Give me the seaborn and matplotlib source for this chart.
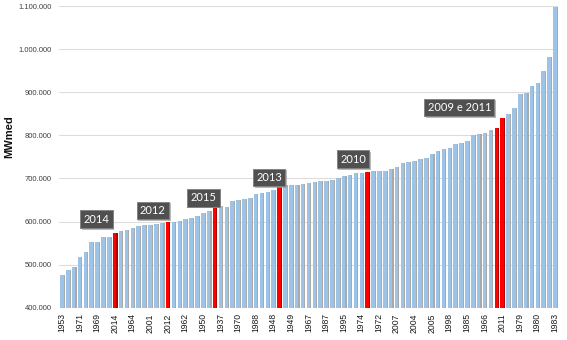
import matplotlib
matplotlib.use("Agg")
import numpy as np
import pandas as pd
import matplotlib.pyplot as plt
import matplotlib.patheffects as pe
from matplotlib.patches import Rectangle
import seaborn as sns

# Annual mean natural inflow energy (MWmed), years sorted from lowest to highest
mwmed = [
    475, 488, 495, 518, 529, 552, 553, 564, 565, 573,
    578, 580, 586, 589, 592, 592, 595, 597, 598, 599,
    601, 606, 608, 612, 620, 624, 635, 635, 633, 647,
    651, 652, 654, 664, 666, 669, 673, 682, 684, 685,
    685, 688, 690, 691, 694, 694, 696, 702, 706, 709,
    713, 713, 715, 717, 718, 718, 721, 727, 735, 739,
    741, 746, 747, 757, 764, 769, 771, 779, 783, 786,
    801, 803, 805, 812, 818, 841, 850, 864, 895, 899,
    914, 922, 949, 982, 1097,
]
mwmed = [v * 1000 for v in mwmed]

# Year shown under every third bar
tick_years = [
    "1953", "1971", "1969", "2014", "1964", "2001", "2012", "1962", "1950",
    "1937", "1970", "1988", "1948", "1949", "1967", "1987", "1995", "1974",
    "1972", "2007", "2004", "2005", "1998", "1985", "1966", "2011", "1979",
    "1980", "1983",
]

# Recent years highlighted in red (bar position in the sorted ranking)
highlight_pos = [9, 18, 26, 37, 52, 74, 75]

# Callout boxes: text and the bar they point at
callout_text = ["2014", "2012", "2015", "2013", "2010", "2009 e 2011"]
callout_bar = [9, 18, 26, 37, 52, 75]

BLUE = "#9DC3E6"
RED = "#FF0000"
SHADOW = "#A9A9A9"
RED_SHADOW = "#B00000"

sns.set_style("white")
plt.rcParams["font.family"] = ["Liberation Sans", "DejaVu Sans"]

n = len(mwmed)
df = pd.DataFrame({
    "pos": np.arange(n),
    "mwmed": mwmed,
    "grupo": ["destaque" if i in highlight_pos else "normal" for i in range(n)],
})

fig = plt.figure(figsize=(5.67, 3.40), dpi=100)
ax = fig.add_axes([0.104, 0.095, 0.880, 0.887])

sns.barplot(data=df, x="pos", y="mwmed", hue="grupo", order=list(range(n)),
            palette={"normal": BLUE, "destaque": RED}, saturation=1,
            dodge=False, width=0.6, errorbar=None, legend=False, ax=ax,
            linewidth=0)

# soft drop shadow on the right of every bar
for patch in list(ax.patches):
    fc = patch.get_facecolor()
    shade = RED_SHADOW if fc[1] < 0.3 else SHADOW
    ax.add_patch(Rectangle((patch.get_x() + 0.19, patch.get_y()),
                           patch.get_width(), patch.get_height(),
                           facecolor=shade, edgecolor="none",
                           zorder=patch.get_zorder() - 0.1))

ax.set_xlim(-0.5, n - 0.5)
ax.set_ylim(400000, 1100000)

yticks = np.arange(400000, 1100001, 100000)
ax.set_yticks(yticks)
ax.set_yticklabels([f"{v:,.0f}".replace(",", ".") for v in yticks],
                   fontsize=5.5, color="#404040")
ax.set_xticks(np.arange(0, n, 3))
ax.set_xticklabels(tick_years, rotation=90, fontsize=6.2, color="#1A1A1A")
ax.tick_params(axis="both", length=0)
ax.tick_params(axis="y", pad=5)
ax.tick_params(axis="x", pad=4)

ax.yaxis.grid(True, color="#DCDCDC", linewidth=0.8)
ax.set_axisbelow(True)
for side in ax.spines.values():
    side.set_visible(False)

ax.set_xlabel("")
ax.set_ylabel("MWmed", fontsize=8, fontweight="bold", color="#111111")
ax.yaxis.set_label_coords(-0.09, 0.566)

# callout centre offsets from the referenced bar (bars, MWmed)
offsets = [(-3.1, 32500), (-2.5, 27600), (-1.9, 20000),
           (-1.7, 20000), (-2.4, 30000), (-7.3, 24000)]
for text, bar, (dx, dy) in zip(callout_text, callout_bar, offsets):
    t = ax.text(bar + dx, mwmed[bar] + dy, text, ha="center", va="center",
                color="white", fontsize=8, family=["Lato", "DejaVu Sans"],
                zorder=5,
                bbox=dict(boxstyle="square,pad=0.3", fc="#505050",
                          ec="#8A8A8A", lw=0.6))
    t.get_bbox_patch().set_path_effects([
        pe.withSimplePatchShadow(offset=(1.2, -1.2), shadow_rgbFace="#9A9A9A",
                                 alpha=0.7),
        pe.Normal(),
    ])

fig.savefig("out.png", dpi=100)
